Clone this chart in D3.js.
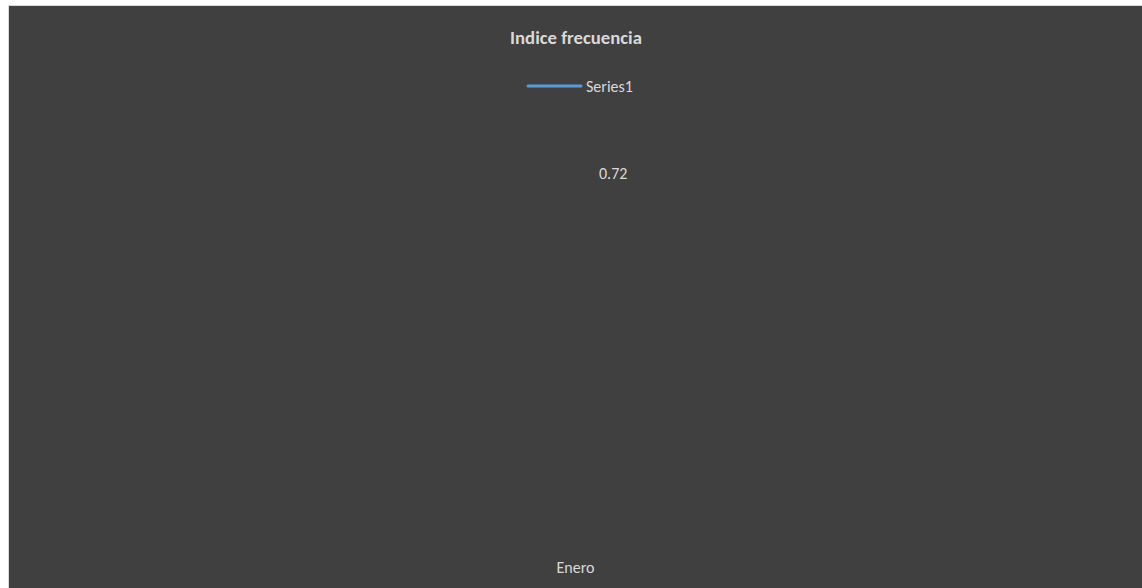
<!DOCTYPE html>
<html>
<head>
<meta charset="utf-8">
<script src="https://cdn.jsdelivr.net/npm/d3@7"></script>
<style>
  html, body { margin: 0; padding: 0; background: #fff; }
  svg { display: block; }
</style>
</head>
<body>
<svg id="chart"></svg>
<script>
// data
const categories = ['Enero'];
const values = [0.72];
const seriesName = 'Series1';
const title = 'Indice frecuencia';

// base settings
const width = 1142;
const height = 588;
const font = 'Carlito, Calibri, "Liberation Sans", sans-serif';
const textColor = '#d9d9d9';
const lineColor = '#5b9bd5';

const svg = d3.select('#chart')
    .attr('width', width).attr('height', height);

// chart area with light border
svg.append('rect')
    .attr('x', 8.5).attr('y', 5.5)
    .attr('width', width).attr('height', height)
    .attr('fill', '#404040')
    .attr('stroke', '#d9d9d9')
    .attr('stroke-width', 1);

// plot area
const plot = { left: 9, right: 1142, top: 131, bottom: 555 };

const x = d3.scaleBand()
    .domain(categories)
    .range([plot.left, plot.right]);

const y = d3.scaleLinear()
    .domain([0, 0.8])
    .range([plot.bottom, plot.top]);

// title
svg.append('text')
    .attr('x', 576).attr('y', 44)
    .attr('text-anchor', 'middle')
    .attr('font-family', font)
    .attr('font-weight', 'bold')
    .attr('font-size', 18.7)
    .attr('fill', textColor)
    .text(title);

// legend
const legend = svg.append('g');
legend.append('line')
    .attr('x1', 528).attr('x2', 581)
    .attr('y1', 86).attr('y2', 86)
    .attr('stroke', lineColor)
    .attr('stroke-width', 3)
    .attr('stroke-linecap', 'round');
legend.append('text')
    .attr('x', 586).attr('y', 92)
    .attr('font-family', font)
    .attr('font-size', 16)
    .attr('fill', textColor)
    .text(seriesName);

// line series (a single point, so only its label shows)
const line = d3.line()
    .x((d, i) => x(categories[i]) + x.bandwidth() / 2)
    .y(d => y(d));

svg.append('path')
    .datum(values)
    .attr('d', line)
    .attr('fill', 'none')
    .attr('stroke', lineColor)
    .attr('stroke-width', 3);

// data labels, placed right of the point
svg.selectAll('.label')
    .data(values)
    .enter().append('text')
    .attr('class', 'label')
    .attr('x', (d, i) => x(categories[i]) + x.bandwidth() / 2 + 23.5)
    .attr('y', d => y(d) + 5.5)
    .attr('font-family', font)
    .attr('font-size', 16)
    .attr('fill', textColor)
    .text(d => d3.format('.2f')(d));

// category axis labels, no line or ticks
const xAxis = svg.append('g')
    .attr('transform', `translate(0,${plot.bottom})`)
    .call(d3.axisBottom(x).tickSize(0).tickPadding(7));
xAxis.select('.domain').remove();
xAxis.selectAll('text')
    .attr('font-family', font)
    .attr('font-size', 16)
    .attr('fill', textColor);
</script>
</body>
</html>
